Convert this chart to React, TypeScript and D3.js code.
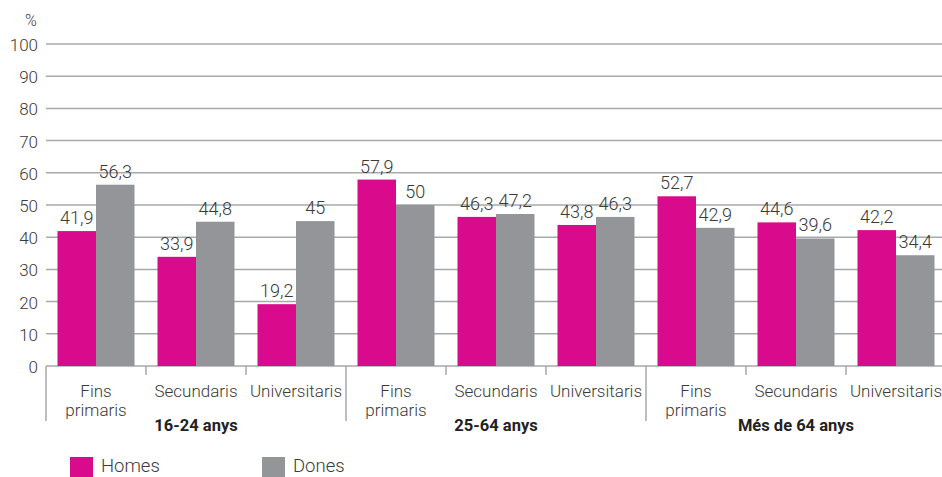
import React, { useEffect, useRef } from "react";
import * as d3 from "d3";

const groups = ["16-24 anys", "25-64 anys", "Més de 64 anys"];
const levels = ["Fins primaris", "Secundaris", "Universitaris"];
const series = ["Homes", "Dones"];
const homes = [41.9, 33.9, 19.2, 57.9, 46.3, 43.8, 52.7, 44.6, 42.2];
const dones = [56.3, 44.8, 45, 50, 47.2, 46.3, 42.9, 39.6, 34.4];
const yTicks = [0, 10, 20, 30, 40, 50, 60, 70, 80, 90, 100];

const colors = { Homes: "#d90b8c", Dones: "#939598" };

const App = () => {
  const svgRef = useRef<SVGSVGElement | null>(null);

  useEffect(() => {
    if (!svgRef.current) return;
    const width = 942;
    const svg = d3.select(svgRef.current);
    svg.selectAll("*").remove();

    const left = 46;
    const font = "Roboto, 'Open Sans', sans-serif";
    const textColor = "#3a3a3a";

    // rows: one per category within each group
    const rows = groups.flatMap((g, gi) =>
      levels.map((l, li) => ({
        key: `${g}|${l}`,
        group: g,
        level: l,
        Homes: homes[gi * levels.length + li],
        Dones: dones[gi * levels.length + li],
      }))
    );

    const x = d3
      .scaleBand()
      .domain(rows.map((r) => r.key))
      .range([left, left + 900]);
    const xs = d3
      .scaleBand()
      .domain(series)
      .range([11.5, x.bandwidth() - 11.5]);
    const y = d3.scaleLinear().domain([0, 100]).range([366, 44]);

    // gridlines
    svg
      .append("g")
      .selectAll("line")
      .data(yTicks)
      .join("line")
      .attr("x1", left)
      .attr("x2", width)
      .attr("y1", (d) => y(d))
      .attr("y2", (d) => y(d))
      .attr("stroke", "#a7a9ac")
      .attr("stroke-width", 1.5);

    // y labels
    svg
      .append("g")
      .selectAll("text")
      .data(yTicks)
      .join("text")
      .attr("x", 38)
      .attr("y", (d) => y(d) + 1)
      .attr("dy", "0.35em")
      .attr("text-anchor", "end")
      .attr("font-family", font)
      .attr("font-weight", 300)
      .attr("font-size", 17)
      .attr("fill", textColor)
      .text((d) => d);

    svg
      .append("text")
      .attr("x", 31)
      .attr("y", 20)
      .attr("dy", "0.35em")
      .attr("text-anchor", "middle")
      .attr("font-family", font)
      .attr("font-weight", 300)
      .attr("font-size", 16)
      .attr("fill", textColor)
      .text("%");

    // bars
    const cat = svg
      .append("g")
      .selectAll("g")
      .data(rows)
      .join("g")
      .attr("transform", (d) => `translate(${x(d.key)},0)`);

    cat
      .selectAll("rect")
      .data((d) => series.map((s) => ({ s, v: d[s] })))
      .join("rect")
      .attr("x", (d) => xs(d.s))
      .attr("y", (d) => y(d.v))
      .attr("width", xs.bandwidth())
      .attr("height", (d) => y(0) - y(d.v))
      .attr("fill", (d) => colors[d.s]);

    cat
      .selectAll("text")
      .data((d) => series.map((s) => ({ s, v: d[s] })))
      .join("text")
      .attr("x", (d) => xs(d.s) + xs.bandwidth() / 2)
      .attr("y", (d) => y(d.v) - 7)
      .attr("text-anchor", "middle")
      .attr("font-family", font)
      .attr("font-weight", 300)
      .attr("font-size", 18)
      .attr("fill", textColor)
      .text((d) => String(d.v).replace(".", ","));

    // x axis ticks
    const axis = svg.append("g");
    rows.forEach((r, i) => {
      const x0 = x(r.key);
      const isGroupStart = i % levels.length === 0;
      axis
        .append("line")
        .attr("x1", x0)
        .attr("x2", x0)
        .attr("y1", y(0))
        .attr("y2", isGroupStart ? 421 : 375)
        .attr("stroke", "#a7a9ac")
        .attr("stroke-width", 1.5);

      const words = r.level === "Fins primaris" ? ["Fins", "primaris"] : [r.level];
      words.forEach((w, wi) => {
        axis
          .append("text")
          .attr("x", x0 + x.bandwidth() / 2)
          .attr("y", 391 + wi * 19)
          .attr("dy", "0.35em")
          .attr("text-anchor", "middle")
          .attr("font-family", font)
          .attr("font-weight", 300)
          .attr("font-size", 17)
          .attr("fill", textColor)
          .text(w);
      });
    });

    // group labels
    groups.forEach((g) => {
      const first = x(`${g}|${levels[0]}`);
      axis
        .append("text")
        .attr("x", first + (x.step() * levels.length) / 2)
        .attr("y", 425)
        .attr("dy", "0.35em")
        .attr("text-anchor", "middle")
        .attr("font-family", font)
        .attr("font-weight", 700)
        .attr("font-size", 16.5)
        .attr("fill", "#222")
        .text(g);
    });

    // legend
    const legendX = [70, 262];
    series.forEach((s, i) => {
      svg
        .append("rect")
        .attr("x", legendX[i])
        .attr("y", 457)
        .attr("width", 23)
        .attr("height", 20)
        .attr("fill", colors[s]);
      svg
        .append("text")
        .attr("x", legendX[i] + 31)
        .attr("y", 466)
        .attr("dy", "0.35em")
        .attr("font-family", font)
        .attr("font-weight", 300)
        .attr("font-size", 18.5)
        .attr("fill", textColor)
        .text(s);
    });
  }, []);

  return (
    <svg
      ref={svgRef}
      width={942}
      height={477}
      style={{ position: "absolute", left: 0, top: 0, background: "#fff" }}
    />
  );
};

export default App;
